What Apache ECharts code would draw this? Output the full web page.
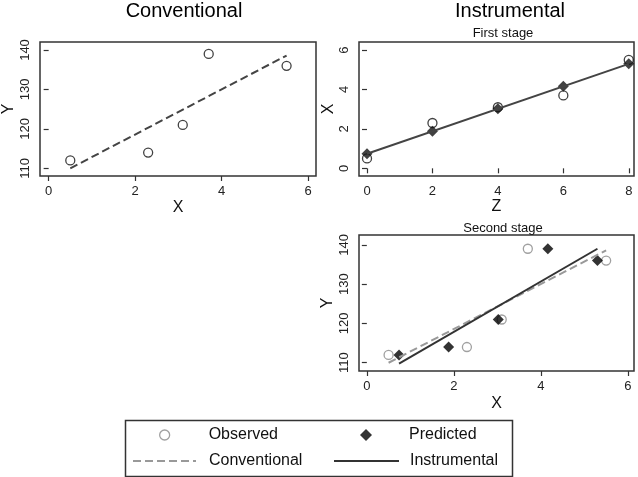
<!DOCTYPE html>
<html>
<head>
<meta charset="utf-8">
<script src="https://cdn.jsdelivr.net/npm/echarts@6/dist/echarts.min.js"></script>
<style>
  html, body { margin: 0; padding: 0; background: #fff; }
  #chart { width: 638px; height: 477px; }
</style>
</head>
<body>
<div id="chart"></div>
<script>
// observed data
var xObs = [0.5, 2.3, 3.1, 3.7, 5.5];
var yObs = [112, 114, 121, 139, 136];
var zVals = [0, 2, 4, 6, 8];
// first stage predicted X
var xHat = [0.74, 1.88, 3.02, 4.16, 5.30];
// fitted line end points
var convFit = [[0.5, 110.0], [5.5, 138.6]];
var firstFit = [[0, 0.74], [8, 5.30]];
var ivFit = [[0.74, 109.8], [5.30, 139.0]];
// tick labels
var xTicks = [0, 2, 4, 6];
var zTicks = [0, 2, 4, 6, 8];
var yTicks = [110, 120, 130, 140];
var x1Ticks = [0, 2, 4, 6];

function pairs(a, b) {
  return a.map(function (v, i) { return [v, b[i]]; });
}

var FONT = 'Liberation Sans, Arial, sans-serif';
var INK = '#333';

function axisX(gridIndex, min, max, ticks, name, gap) {
  return {
    type: 'value', gridIndex: gridIndex, min: min, max: max,
    name: name, nameLocation: 'middle', nameGap: gap,
    nameTextStyle: { fontFamily: FONT, fontSize: 16, color: '#111' },
    axisLine: { show: false },
    axisTick: { show: true, length: 5, customValues: ticks, lineStyle: { color: INK, width: 1.2 } },
    axisLabel: { customValues: ticks, margin: 9, fontFamily: FONT, fontSize: 13, color: '#222' },
    splitLine: { show: false }
  };
}
function axisY(gridIndex, min, max, ticks, name, gap) {
  return {
    type: 'value', gridIndex: gridIndex, min: min, max: max,
    name: name, nameLocation: 'middle', nameGap: gap,
    nameTextStyle: { fontFamily: FONT, fontSize: 16, color: '#111' },
    axisLine: { show: false },
    axisTick: { show: true, length: 5, customValues: ticks, lineStyle: { color: INK, width: 1.2 } },
    axisLabel: { customValues: ticks, rotate: 90, margin: 8, fontFamily: FONT, fontSize: 13, color: '#222' },
    splitLine: { show: false }
  };
}

var chart = echarts.init(document.getElementById('chart'));
var hollow = 'rgba(0,0,0,0)';
var legendText = { fontFamily: FONT, fontSize: 16, color: '#111' };

var option = {
  backgroundColor: '#fff',
  animation: false,
  title: [
    { text: 'Conventional', left: 179, top: -4, textAlign: 'center', textStyle: { fontFamily: FONT, fontSize: 20, fontWeight: 'normal', color: '#000' } },
    { text: 'Instrumental', left: 505, top: -4, textAlign: 'center', textStyle: { fontFamily: FONT, fontSize: 20, fontWeight: 'normal', color: '#000' } },
    { text: 'First stage', left: 498, top: 22, textAlign: 'center', textStyle: { fontFamily: FONT, fontSize: 13, fontWeight: 'normal', color: '#111' } },
    { text: 'Second stage', left: 498, top: 217, textAlign: 'center', textStyle: { fontFamily: FONT, fontSize: 13, fontWeight: 'normal', color: '#111' } }
  ],
  grid: [
    { left: 39, top: 42, width: 277, height: 134, show: true, borderColor: INK, borderWidth: 1.5, backgroundColor: '#fff' },
    { left: 359, top: 42, width: 275, height: 134, show: true, borderColor: INK, borderWidth: 1.5, backgroundColor: '#fff' },
    { left: 359, top: 235, width: 275, height: 136, show: true, borderColor: INK, borderWidth: 1.5, backgroundColor: '#fff' }
  ],
  xAxis: [
    axisX(0, -0.2, 6.18, xTicks, 'X', 24),
    axisX(1, -0.245, 8.16, zTicks, 'Z', 23),
    axisX(2, -0.18, 6.14, x1Ticks, 'X', 25)
  ],
  yAxis: [
    axisY(0, 108.05, 142.03, yTicks, 'Y', 23),
    axisY(1, -0.39, 6.41, [0, 2, 4, 6], 'X', 22),
    axisY(2, 107.9, 142.5, yTicks, 'Y', 23)
  ],
  legend: [
    { left: 159, top: 427, padding: 0, itemWidth: 10, itemHeight: 10,
      data: [{ name: 'Observed', icon: 'circle' }],
      itemStyle: { color: hollow, borderColor: '#888', borderWidth: 1.3 },
      textStyle: Object.assign({ padding: [0, 0, 0, 34] }, legendText) },
    { left: 132, top: 453, padding: 0, itemWidth: 63, itemHeight: 10,
      data: ['Conventional'], itemStyle: { opacity: 0 },
      textStyle: Object.assign({ padding: [0, 0, 0, 8] }, legendText) },
    { left: 360, top: 427, padding: 0, itemWidth: 12, itemHeight: 12,
      data: [{ name: 'Predicted', icon: 'diamond' }],
      itemStyle: { color: '#000' },
      textStyle: Object.assign({ padding: [0, 0, 0, 32] }, legendText) },
    { left: 333, top: 453, padding: 0, itemWidth: 65, itemHeight: 10,
      data: ['Instrumental'], itemStyle: { opacity: 0 },
      textStyle: Object.assign({ padding: [0, 0, 0, 6] }, legendText) }
  ],
  graphic: [
    { type: 'rect', left: 123, top: 418, shape: { width: 387, height: 56 },
      style: { fill: 'none', stroke: INK, lineWidth: 1.5 } }
  ],
  series: [
    // second stage
    { name: 'Conventional', type: 'line', xAxisIndex: 2, yAxisIndex: 2, data: convFit, symbol: 'none',
      lineStyle: { color: '#999', width: 2, type: [8, 4] }, itemStyle: { color: '#999' } },
    { name: 'Instrumental', type: 'line', xAxisIndex: 2, yAxisIndex: 2, data: ivFit, symbol: 'none',
      lineStyle: { color: '#333', width: 2 }, itemStyle: { color: '#333' } },
    { name: 'Observed', type: 'scatter', xAxisIndex: 2, yAxisIndex: 2, data: pairs(xObs, yObs),
      symbol: 'circle', symbolSize: 9, itemStyle: { color: hollow, borderColor: '#888', borderWidth: 1.3 } },
    { name: 'Predicted', type: 'scatter', xAxisIndex: 2, yAxisIndex: 2, data: pairs(xHat, yObs),
      symbol: 'diamond', symbolSize: 11, itemStyle: { color: '#000' } },
    // conventional
    { name: 'Conventional', type: 'line', xAxisIndex: 0, yAxisIndex: 0, data: convFit, symbol: 'none',
      lineStyle: { color: '#444', width: 2, type: [8, 4] } },
    { name: 'Observed', type: 'scatter', xAxisIndex: 0, yAxisIndex: 0, data: pairs(xObs, yObs),
      symbol: 'circle', symbolSize: 9, itemStyle: { color: hollow, borderColor: '#111', borderWidth: 1.3 } },
    // first stage
    { name: 'Instrumental', type: 'line', xAxisIndex: 1, yAxisIndex: 1, data: firstFit, symbol: 'none',
      lineStyle: { color: '#444', width: 2 } },
    { name: 'Predicted', type: 'scatter', xAxisIndex: 1, yAxisIndex: 1, data: pairs(zVals, xHat),
      symbol: 'diamond', symbolSize: 11, itemStyle: { color: '#111' } },
    { name: 'Observed', type: 'scatter', xAxisIndex: 1, yAxisIndex: 1, data: pairs(zVals, xObs),
      symbol: 'circle', symbolSize: 9, itemStyle: { color: hollow, borderColor: '#111', borderWidth: 1.3 } }
  ]
};

chart.setOption(option);
</script>
</body>
</html>
